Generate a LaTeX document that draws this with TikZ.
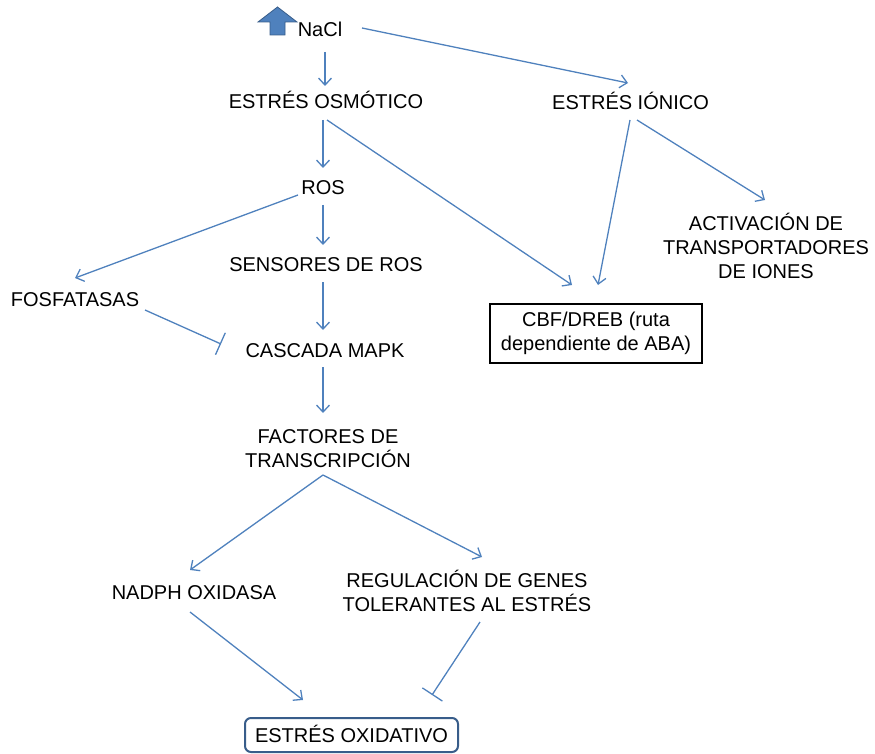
\documentclass[tikz,border=0pt]{standalone}
\usepackage{fontspec}
\setmainfont{Liberation Sans}
\usetikzlibrary{arrows.meta,calc}
\definecolor{flecha}{RGB}{79,129,189}
\definecolor{borde}{RGB}{56,93,138}
\begin{document}
\begin{tikzpicture}[x=1pt,y=-1pt,
    lbl/.style={inner sep=0pt,font=\fontsize{20}{24}\selectfont,text height=14.3pt,text depth=0pt},
    multi/.style={inner sep=0pt,font=\fontsize{20}{24}\selectfont,align=center},
    arr/.style={draw=flecha,line width=1.3pt,-{Straight Barb[length=7pt,width=13pt]}},
    inh/.style={draw=flecha,line width=1.3pt,-{Bar[width=24pt]}}]
  \useasboundingbox (0,0) rectangle (875,754);
  % icono de subida
  \draw[fill=flecha,draw=borde,line width=0.8pt] (277.5,7) -- (258,22) -- (270,22) -- (270,35)
    -- (285,35) -- (285,22) -- (297,22) -- cycle;
  \node[lbl] (nacl) at (320,29) {NaCl};
  \node[lbl] (osm) at (326,101.5) {ESTRÉS OSMÓTICO};
  \node[lbl] (ion) at (630.5,102) {ESTRÉS IÓNICO};
  \node[lbl] (ros) at (323,187) {ROS};
  \node[multi] (act) at (766,246) {ACTIVACIÓN DE\\TRANSPORTADORES\\DE IONES};
  \node[multi,draw=black,line width=2.5pt,minimum width=212pt,minimum height=59pt] (cbf) at (596,333.5)
    {CBF/DREB (ruta\\dependiente de ABA)};
  \node[lbl] (fos) at (75,299) {FOSFATASAS};
  \node[lbl] (sen) at (326,264) {SENSORES DE ROS};
  \node[lbl] (cas) at (325,350) {CASCADA MAPK};
  \node[multi] (fac) at (328,449) {FACTORES DE\\TRANSCRIPCIÓN};
  \node[lbl] (nad) at (194,592) {NADPH OXIDASA};
  \node[multi] (reg) at (467,591) {REGULACIÓN DE GENES\\TOLERANTES AL ESTRÉS};
  \node[lbl,draw=borde,line width=2pt,rounded corners=6pt,minimum width=213pt,minimum height=34pt]
    (oxi) at (351.5,735) {ESTRÉS OXIDATIVO};
  % conexiones
  \draw[arr] ($(nacl)+(5,23)$) -- ($(osm)+(-1,-15.5)$);
  \draw[arr] ($(nacl)+(42,-1)$) -- ($(ion)+(-2.5,-19)$);
  \draw[arr] ($(osm)+(-3,18.5)$) -- ($(ros)+(0,-19)$);
  \draw[arr] ($(osm)+(1,18.5)$) -- ($(cbf)+(-24,-48.5)$);
  \draw[arr] ($(ion)+(-0.5,18)$) -- ($(cbf)+(2,-48.5)$);
  \draw[arr] ($(ion)+(6.5,18)$) -- ($(act)+(-1,-46)$);
  \draw[arr] ($(ros)+(-25,8)$) -- ($(fos)+(0,-21)$);
  \draw[arr] ($(ros)+(0,18)$) -- ($(sen)+(-3,-19)$);
  \draw[arr] ($(sen)+(-3,18)$) -- ($(cas)+(-2,-20)$);
  \draw[inh] ($(fos)+(70,11)$) -- ($(cas)+(-104,-6)$);
  \draw[arr] ($(cas)+(-2,17)$) -- ($(fac)+(-5,-36)$);
  \draw[arr] ($(fac)+(-5,26)$) -- ($(nad)+(-4,-22)$);
  \draw[arr] ($(fac)+(-5,26)$) -- ($(reg)+(15,-34)$);
  \draw[arr] ($(nad)+(-4,20)$) -- ($(oxi)+(-48.5,-35)$);
  \draw[inh] ($(reg)+(13,31)$) -- ($(oxi)+(80.5,-40)$);
\end{tikzpicture}
\end{document}
